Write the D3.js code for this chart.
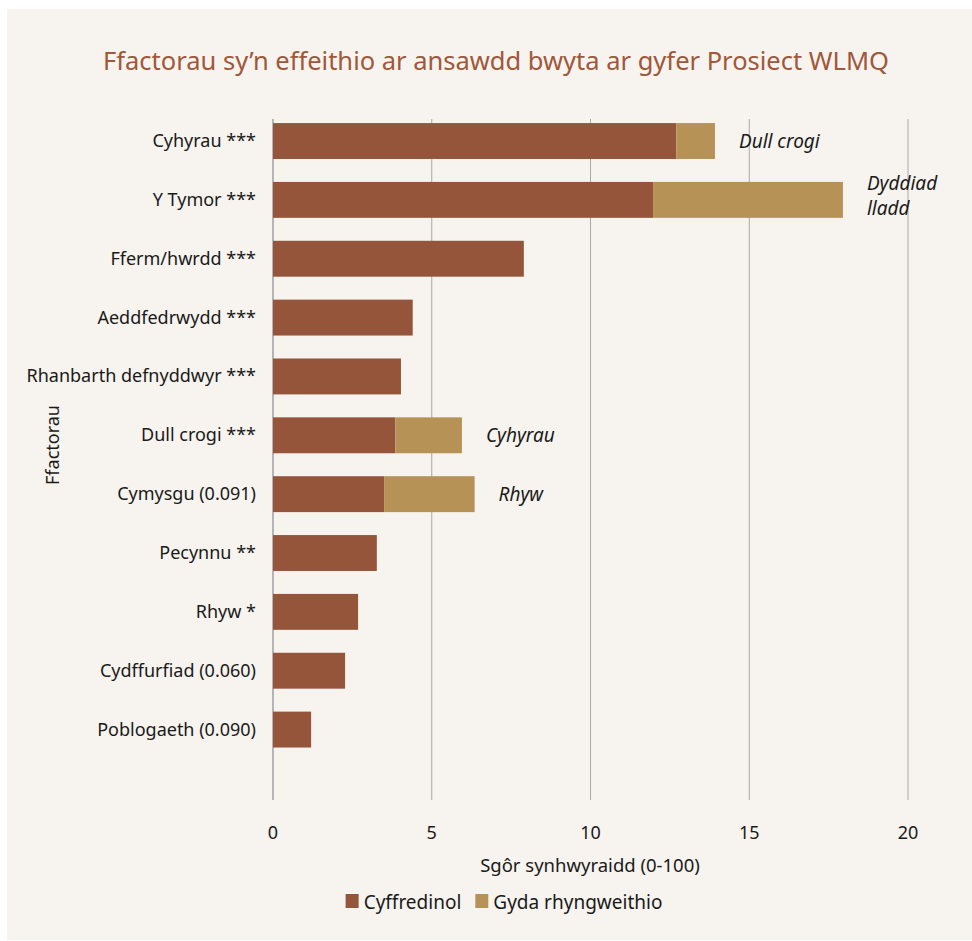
<!DOCTYPE html>
<html>
<head>
<meta charset="utf-8">
<script src="https://cdn.jsdelivr.net/npm/d3@7"></script>
<style>
  body { margin: 0; background: #fff; }
  text { font-family: "Noto Sans", "Open Sans", sans-serif; }
</style>
</head>
<body>
<svg id="chart" width="972" height="941"></svg>
<script>
// data
const categories = ['Cyhyrau ***', 'Y Tymor ***', 'Fferm/hwrdd ***', 'Aeddfedrwydd ***',
  'Rhanbarth defnyddwyr ***', 'Dull crogi ***', 'Cymysgu (0.091)', 'Pecynnu **',
  'Rhyw *', 'Cydffurfiad (0.060)', 'Poblogaeth (0.090)'];
const mainValues = [12.7, 11.97, 7.9, 4.4, 4.03, 3.85, 3.5, 3.27, 2.68, 2.27, 1.2];
const interactionValues = [1.22, 5.98, 0, 0, 0, 2.1, 2.85, 0, 0, 0, 0];
const interactionLabels = [['Dull crogi'], ['Dyddiad', 'lladd'], [], [], [], ['Cyhyrau'], ['Rhyw'], [], [], [], []];
const xTicks = [0, 5, 10, 15, 20];
const seriesNames = ['Cyffredinol', 'Gyda rhyngweithio'];

const colors = ['#94553a', '#b79257'];

const svg = d3.select('#chart');

svg.append('rect')
  .attr('x', 7).attr('y', 9)
  .attr('width', 965).attr('height', 931)
  .attr('fill', '#f7f3ee');

const x = d3.scaleLinear().domain([0, 20]).range([273, 908]);
const y = d3.scaleBand().domain(categories).range([111.6, 759]).paddingInner(0.39).paddingOuter(0.195);

const plotTop = 119;
const plotBottom = 800;

// grid lines
svg.append('g')
  .selectAll('line')
  .data(xTicks)
  .enter().append('line')
  .attr('x1', d => x(d)).attr('x2', d => x(d))
  .attr('y1', plotTop).attr('y2', plotBottom)
  .attr('stroke', d => (d === 0 ? '#b5b5b5' : '#a9a9a9'))
  .attr('stroke-width', d => (d === 0 ? 2 : 1));

// bars
const rows = categories.map((c, i) => ({ cat: c, main: mainValues[i], extra: interactionValues[i], label: interactionLabels[i] }));

svg.append('g')
  .selectAll('rect')
  .data(rows)
  .enter().append('rect')
  .attr('x', x(0))
  .attr('y', d => y(d.cat))
  .attr('width', d => x(d.main) - x(0))
  .attr('height', y.bandwidth())
  .attr('fill', colors[0]);

svg.append('g')
  .selectAll('rect')
  .data(rows.filter(d => d.extra > 0))
  .enter().append('rect')
  .attr('x', d => x(d.main))
  .attr('y', d => y(d.cat))
  .attr('width', d => x(d.main + d.extra) - x(d.main))
  .attr('height', y.bandwidth())
  .attr('fill', colors[1]);

// interaction labels
svg.append('g')
  .selectAll('text')
  .data(rows.filter(d => d.label.length))
  .enter().append('text')
  .attr('x', d => x(d.main + d.extra) + 24)
  .attr('y', d => y(d.cat) + y.bandwidth() / 2 + (d.label.length > 1 ? -10 : 7))
  .attr('font-size', 19)
  .attr('font-style', 'italic')
  .attr('fill', '#1a1a1a')
  .each(function (d) {
    d3.select(this).selectAll('tspan')
      .data(d.label)
      .enter().append('tspan')
      .attr('x', x(d.main + d.extra) + 24)
      .attr('dy', (t, i) => (i ? 25 : 0))
      .text(t => t);
  });

// category labels
svg.append('g')
  .selectAll('text')
  .data(categories)
  .enter().append('text')
  .attr('x', 256)
  .attr('y', d => y(d) + y.bandwidth() / 2 + 6)
  .attr('text-anchor', 'end')
  .attr('font-size', 18)
  .attr('fill', '#1a1a1a')
  .text(d => d);

// x tick labels
svg.append('g')
  .selectAll('text')
  .data(xTicks)
  .enter().append('text')
  .attr('x', d => x(d))
  .attr('y', 839)
  .attr('text-anchor', 'middle')
  .attr('font-size', 18)
  .attr('fill', '#1a1a1a')
  .text(d => d);

// titles
svg.append('text')
  .attr('x', 496).attr('y', 70)
  .attr('text-anchor', 'middle')
  .attr('font-size', 25.5)
  .attr('fill', '#a0573a')
  .text('Ffactorau sy\u2019n effeithio ar ansawdd bwyta ar gyfer Prosiect WLMQ');

svg.append('text')
  .attr('x', 590).attr('y', 872)
  .attr('text-anchor', 'middle')
  .attr('font-size', 18.5)
  .attr('fill', '#1a1a1a')
  .text('Sgôr synhwyraidd (0-100)');

svg.append('text')
  .attr('transform', 'translate(59,445) rotate(-90)')
  .attr('text-anchor', 'middle')
  .attr('font-size', 18)
  .attr('fill', '#1a1a1a')
  .text('Ffactorau');

// legend, laid out from measured text widths and centred
const legend = svg.append('g');
let lx = 0;
seriesNames.forEach((name, i) => {
  legend.append('rect')
    .attr('x', lx).attr('y', 894)
    .attr('width', 13).attr('height', 14)
    .attr('fill', colors[i]);
  const t = legend.append('text')
    .attr('x', lx + 18).attr('y', 909)
    .attr('font-size', 19)
    .attr('fill', '#1a1a1a')
    .text(name);
  lx += 18 + t.node().getComputedTextLength() + 14;
});
const legendW = lx - 14;
legend.attr('transform', `translate(${504 - legendW / 2},0)`);
</script>
</body>
</html>
